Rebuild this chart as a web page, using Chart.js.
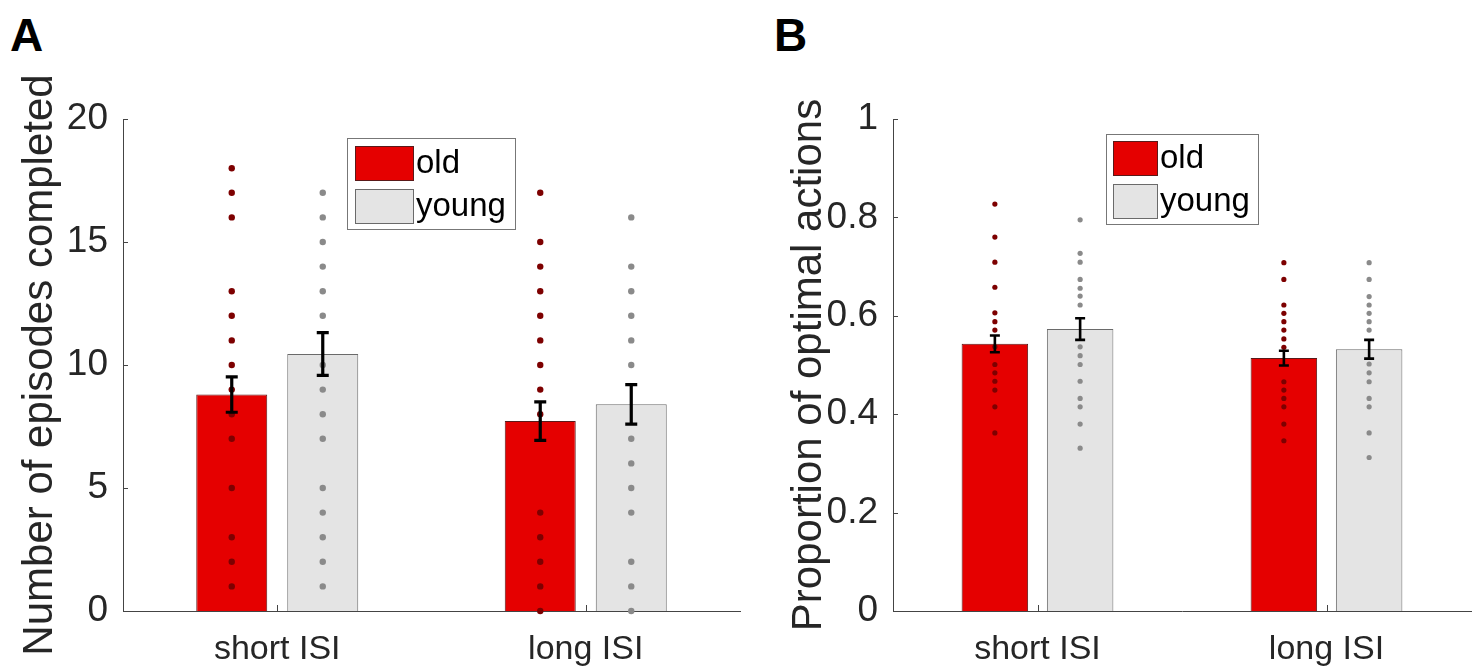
<!DOCTYPE html>
<html>
<head>
<meta charset="utf-8">
<script src="https://cdn.jsdelivr.net/npm/chart.js@4.4.0/dist/chart.umd.min.js"></script>
<style>
  body { margin: 0; background: #fff; width: 1478px; height: 668px; overflow: hidden; position: relative; }
  canvas { position: absolute; top: 0; }
  .tag { position: absolute; top: 8px; font: bold 46px 'Liberation Sans', Arial, sans-serif; color: #000; }
</style>
</head>
<body>
<div class="tag" style="left:10px">A</div>
<div class="tag" style="left:774px">B</div>
<canvas id="chartA" width="745" height="668" style="left:0"></canvas>
<canvas id="chartB" width="733" height="668" style="left:745px"></canvas>
<script>
const categories = ['short ISI', 'long ISI'];
const groups = ['old', 'young'];

// panel A: episodes completed
const episodesMeanOld = [8.8, 7.72];
const episodesMeanYoung = [10.45, 8.4];
const episodesSemOld = [0.72, 0.78];
const episodesSemYoung = [0.87, 0.8];
const episodesOldShort = [18, 17, 16, 13, 12, 11, 10, 9, 8, 7, 5, 3, 2, 1];
const episodesYoungShort = [17, 16, 15, 14, 13, 12, 10, 9, 8, 7, 5, 4, 3, 2, 1];
const episodesOldLong = [17, 15, 14, 13, 12, 11, 10, 9, 8, 4, 3, 2, 1, 0];
const episodesYoungLong = [16, 14, 13, 12, 11, 10, 7, 6, 5, 4, 2, 1, 0];

// panel B: proportion of optimal actions
const propMeanOld = [0.543, 0.514];
const propMeanYoung = [0.573, 0.532];
const propSemOld = [0.017, 0.015];
const propSemYoung = [0.022, 0.019];
const propOldShort = [0.827, 0.760, 0.709, 0.658, 0.606, 0.588, 0.571, 0.537, 0.501, 0.484, 0.467, 0.449, 0.415, 0.362];
const propYoungShort = [0.795, 0.727, 0.709, 0.674, 0.656, 0.640, 0.622, 0.537, 0.519, 0.501, 0.467, 0.432, 0.415, 0.380, 0.331];
const propOldLong = [0.708, 0.674, 0.622, 0.605, 0.588, 0.571, 0.553, 0.536, 0.466, 0.449, 0.432, 0.415, 0.380, 0.346];
const propYoungLong = [0.708, 0.674, 0.639, 0.622, 0.605, 0.588, 0.571, 0.502, 0.484, 0.466, 0.432, 0.415, 0.362, 0.312];

const FONT = "'Liberation Sans', Arial, sans-serif";
const RED = '#e50000';
const GREY = '#e4e4e4';
const TEXT = '#262626';

// dots, error bars, inward ticks and the boxed legend
function makeExtras(points, errors, look) {
  return {
    id: 'extras',
    beforeDatasetsDraw(chart) {
      const { ctx, chartArea } = chart;
      const x = chart.scales.x, y = chart.scales.y;
      ctx.save();
      ctx.strokeStyle = '#444';
      ctx.lineWidth = 1;
      ctx.beginPath();
      y.ticks.forEach((t, i) => {
        const py = Math.round(y.getPixelForTick(i)) + 0.5;
        ctx.moveTo(chartArea.left, py);
        ctx.lineTo(chartArea.left + 5, py);
      });
      x.ticks.forEach((t, i) => {
        const px = Math.round(x.getPixelForTick(i)) + 0.5;
        ctx.moveTo(px, chartArea.bottom);
        ctx.lineTo(px, chartArea.bottom - 6);
      });
      ctx.stroke();
      ctx.restore();
    },
    afterDatasetsDraw(chart) {
      const ctx = chart.ctx, y = chart.scales.y;
      ctx.save();
      points.forEach((perCat, di) => {
        const meta = chart.getDatasetMeta(di);
        ctx.fillStyle = look.dotColors[di];
        perCat.forEach((vals, ci) => {
          const bx = meta.data[ci].x;
          vals.forEach(v => {
            ctx.beginPath();
            ctx.arc(bx, y.getPixelForValue(v), look.dotRadius, 0, Math.PI * 2);
            ctx.fill();
          });
        });
      });
      ctx.strokeStyle = '#000';
      ctx.lineWidth = look.errWidth;
      chart.data.datasets.forEach((ds, di) => {
        const meta = chart.getDatasetMeta(di);
        ds.data.forEach((m, ci) => {
          const e = errors[di][ci];
          const bx = meta.data[ci].x;
          const top = y.getPixelForValue(m + e), bot = y.getPixelForValue(m - e);
          ctx.beginPath();
          ctx.moveTo(bx, top); ctx.lineTo(bx, bot);
          ctx.moveTo(bx - look.cap, top); ctx.lineTo(bx + look.cap, top);
          ctx.moveTo(bx - look.cap, bot); ctx.lineTo(bx + look.cap, bot);
          ctx.stroke();
        });
      });
      ctx.restore();
    },
    afterDraw(chart) {
      const ctx = chart.ctx, L = look.legend;
      ctx.save();
      ctx.fillStyle = '#fff';
      ctx.fillRect(L.x, L.y, L.w, L.h);
      ctx.strokeStyle = '#777';
      ctx.lineWidth = 1;
      ctx.strokeRect(L.x + 0.5, L.y + 0.5, L.w, L.h);
      ctx.font = '33px ' + FONT;
      ctx.textBaseline = 'middle';
      chart.data.datasets.forEach((ds, i) => {
        const sy = L.y + L.pad + i * L.step;
        ctx.fillStyle = ds.backgroundColor;
        ctx.fillRect(L.x + L.pad, sy, L.sw, L.sh);
        ctx.strokeStyle = ds.borderColor;
        ctx.strokeRect(L.x + L.pad + 0.5, sy + 0.5, L.sw, L.sh);
        ctx.fillStyle = '#000';
        ctx.fillText(ds.label, L.x + L.pad + L.sw + 3, sy + L.sh / 2 + 1);
      });
      ctx.restore();
    }
  };
}

function makePanel(id, cfg) {
  return new Chart(document.getElementById(id), {
    type: 'bar',
    data: {
      labels: categories,
      datasets: [
        { label: groups[0], data: cfg.meanOld, backgroundColor: RED, borderColor: '#5a1a1a', borderWidth: 1,
          categoryPercentage: 0.59, barPercentage: 0.78 },
        { label: groups[1], data: cfg.meanYoung, backgroundColor: GREY, borderColor: '#6a6a6a', borderWidth: 1,
          categoryPercentage: 0.59, barPercentage: 0.78 }
      ]
    },
    options: {
      responsive: false,
      animation: false,
      layout: { padding: { top: 119, right: cfg.padRight, bottom: 0, left: 0 } },
      plugins: { legend: { display: false }, tooltip: { enabled: false } },
      scales: {
        x: {
          offset: true,
          grid: { display: false },
          border: { color: '#444', width: 1 },
          ticks: { color: TEXT, font: { family: FONT, size: 34 }, padding: 10 },
          afterFit: s => { s.height = 57; }
        },
        y: {
          min: 0, max: cfg.max,
          ticks: { stepSize: cfg.step, color: TEXT, font: { family: FONT, size: 37 }, padding: 7,
                   callback: v => String(Math.round(v * 10) / 10) },
          grid: { display: false },
          border: { color: '#444', width: 1 },
          title: { display: true, text: cfg.title, color: TEXT, font: { family: FONT, size: 42 },
                   padding: { top: cfg.titlePad, bottom: 0 } },
          afterFit: s => { s.width = cfg.axisLeft; }
        }
      }
    },
    plugins: [makeExtras(cfg.points, cfg.errors, cfg.look)]
  });
}

makePanel('chartA', {
  meanOld: episodesMeanOld, meanYoung: episodesMeanYoung,
  errors: [episodesSemOld, episodesSemYoung],
  points: [[episodesOldShort, episodesOldLong], [episodesYoungShort, episodesYoungLong]],
  max: 20, step: 5, title: 'Number of episodes completed',
  axisLeft: 123, padRight: 5, titlePad: 15,
  look: { dotColors: ['#7d0000', '#8a8a8a'], dotRadius: 3.2, errWidth: 3.2, cap: 6,
          legend: { x: 347, y: 138, w: 168, h: 91, pad: 8, step: 43, sw: 58, sh: 34 } }
});

makePanel('chartB', {
  meanOld: propMeanOld, meanYoung: propMeanYoung,
  errors: [propSemOld, propSemYoung],
  points: [[propOldShort, propOldLong], [propYoungShort, propYoungLong]],
  max: 1, step: 0.2, title: 'Proportion of optimal actions',
  axisLeft: 148, padRight: 7, titlePad: 39,
  look: { dotColors: ['#7d0000', '#8a8a8a'], dotRadius: 2.6, errWidth: 2.6, cap: 5,
          legend: { x: 361, y: 134, w: 152, h: 90, pad: 7, step: 43, sw: 44, sh: 34 } }
});
</script>
</body>
</html>
